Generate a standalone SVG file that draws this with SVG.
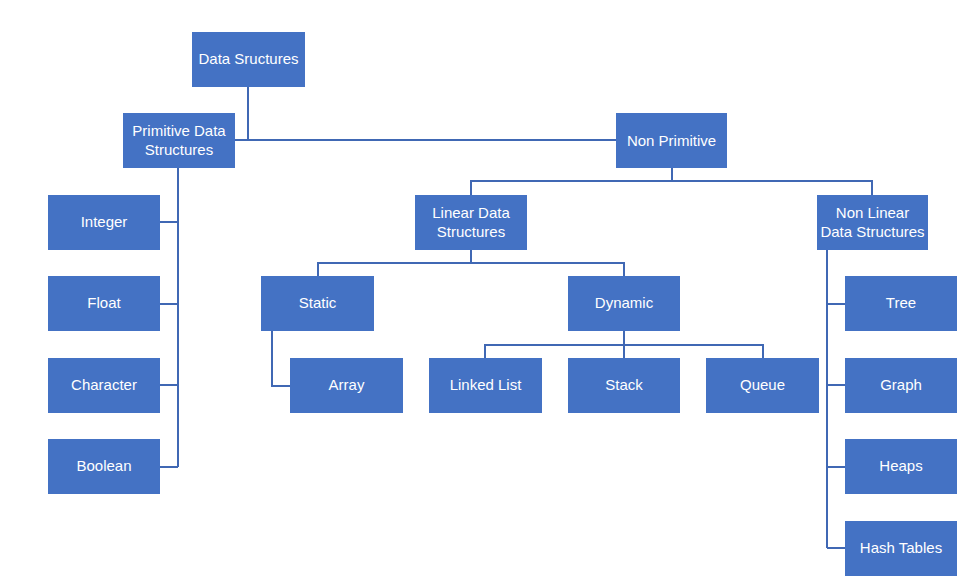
<svg xmlns="http://www.w3.org/2000/svg" width="968" height="582" viewBox="0 0 968 582">
  <style>
    .box { fill: #4472C4; }
    .lbl { fill: #FFFFFF; font-family: "Liberation Sans", Arial, sans-serif; font-size: 15px; text-anchor: middle; dominant-baseline: central; }
    .wire { fill: none; stroke: #4068B4; stroke-width: 2; }
  </style>
  <rect width="968" height="582" fill="#FFFFFF"/>

  <!-- connectors -->
  <g id="connectors" class="wire">
    <path d="M248 87 V140 M235 140 H616"/>
    <path d="M178 168 V467 M160 222 H178 M160 304 H178 M160 385 H178 M160 467 H178"/>
    <path d="M672 168 V181 M471 195 V181 H872 V195"/>
    <path d="M471 250 V263 M318 276 V263 H624 V276"/>
    <path d="M272 331 V386 H290"/>
    <path d="M624 331 V358 M485 358 V345 H763 V358"/>
    <path d="M827 250 V548 M827 304 H845 M827 385 H845 M827 467 H845 M827 548 H845"/>
  </g>

  <!-- nodes -->
  <g id="n-root"><rect class="box" x="192" y="32" width="113" height="55"/><text class="lbl" x="248.5" y="58.5">Data Sructures</text></g>
  <g id="n-primitive"><rect class="box" x="123" y="113" width="112" height="55"/><text class="lbl" x="179" y="130">Primitive Data</text><text class="lbl" x="179" y="149">Structures</text></g>
  <g id="n-nonprimitive"><rect class="box" x="616" y="113" width="111" height="55"/><text class="lbl" x="671.5" y="140">Non Primitive</text></g>

  <g id="n-integer"><rect class="box" x="48" y="195" width="112" height="55"/><text class="lbl" x="104" y="221.5">Integer</text></g>
  <g id="n-float"><rect class="box" x="48" y="276" width="112" height="55"/><text class="lbl" x="104" y="302.5">Float</text></g>
  <g id="n-character"><rect class="box" x="48" y="358" width="112" height="55"/><text class="lbl" x="104" y="384.5">Character</text></g>
  <g id="n-boolean"><rect class="box" x="48" y="439" width="112" height="55"/><text class="lbl" x="104" y="465.5">Boolean</text></g>

  <g id="n-linear"><rect class="box" x="415" y="195" width="112" height="55"/><text class="lbl" x="471" y="212">Linear Data</text><text class="lbl" x="471" y="231">Structures</text></g>
  <g id="n-nonlinear"><rect class="box" x="817" y="195" width="111" height="55"/><text class="lbl" x="872.5" y="212">Non Linear</text><text class="lbl" x="872.5" y="231">Data Structures</text></g>

  <g id="n-static"><rect class="box" x="261" y="276" width="113" height="55"/><text class="lbl" x="317.5" y="302.5">Static</text></g>
  <g id="n-dynamic"><rect class="box" x="568" y="276" width="112" height="55"/><text class="lbl" x="624" y="302.5">Dynamic</text></g>

  <g id="n-array"><rect class="box" x="290" y="358" width="113" height="55"/><text class="lbl" x="346.5" y="384.5">Array</text></g>
  <g id="n-linkedlist"><rect class="box" x="429" y="358" width="113" height="55"/><text class="lbl" x="485.5" y="384.5">Linked List</text></g>
  <g id="n-stack"><rect class="box" x="568" y="358" width="112" height="55"/><text class="lbl" x="624" y="384.5">Stack</text></g>
  <g id="n-queue"><rect class="box" x="706" y="358" width="113" height="55"/><text class="lbl" x="762.5" y="384.5">Queue</text></g>

  <g id="n-tree"><rect class="box" x="845" y="276" width="112" height="55"/><text class="lbl" x="901" y="302.5">Tree</text></g>
  <g id="n-graph"><rect class="box" x="845" y="358" width="112" height="55"/><text class="lbl" x="901" y="384.5">Graph</text></g>
  <g id="n-heaps"><rect class="box" x="845" y="439" width="112" height="55"/><text class="lbl" x="901" y="465.5">Heaps</text></g>
  <g id="n-hashtables"><rect class="box" x="845" y="521" width="112" height="55"/><text class="lbl" x="901" y="547.5">Hash Tables</text></g>
</svg>
